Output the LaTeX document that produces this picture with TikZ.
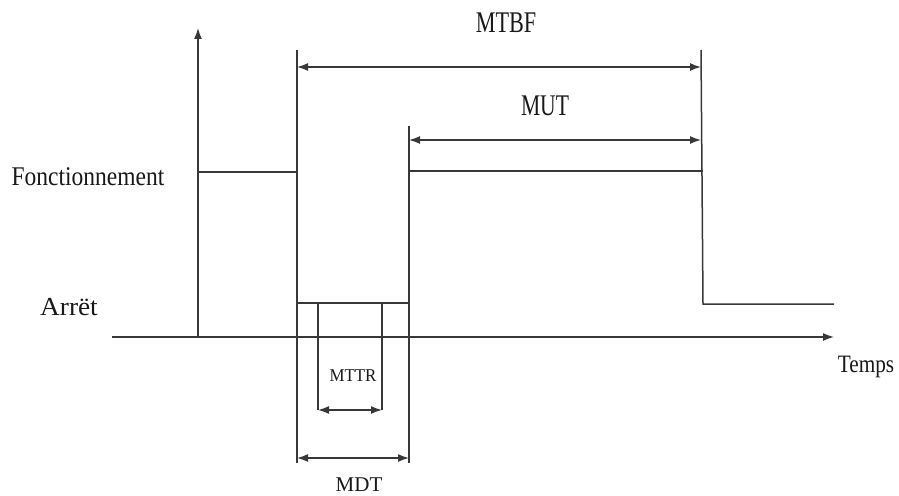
\documentclass[tikz,border=0pt]{standalone}
\usepackage{fontspec}
\setmainfont{Liberation Serif}
\usetikzlibrary{arrows.meta}
\begin{document}
\begin{tikzpicture}[x=1pt,y=-1pt,
  ln/.style={line width=1.5pt,draw=black!78},
  tip/.style={-{Latex[length=11pt,width=8pt]}},
  dimarrow/.style={ln,{Latex[length=11pt,width=8pt]}-{Latex[length=11pt,width=8pt]}},
  lbl/.style={anchor=base,inner sep=0pt,text=black!90}]
\useasboundingbox[fill=white] (0,0) rectangle (899,495);
% axes
\coordinate (o) at (198,337);
\coordinate (ytop) at (198,28);
\coordinate (xl) at (112,337);
\coordinate (xr) at (834,337);
\draw[ln,tip] (o) -- (ytop);
\draw[ln,tip] (xl) -- (xr);
% key points of the state curve
\coordinate (f0) at (198,172);
\coordinate (f1) at (297,172);
\coordinate (v1t) at (297,50);
\coordinate (v1b) at (297,463);
\coordinate (a0) at (297,303);
\coordinate (a1) at (410,303);
\coordinate (v2t) at (409,126);
\coordinate (v2b) at (409,463);
\coordinate (u0) at (409,171);
\coordinate (u1) at (703,171);
\coordinate (v3t) at (701,50);
\coordinate (v3b) at (703,304);
\coordinate (e1) at (834,304);
\draw[ln] (f0) -- (f1);
\draw[ln] (v1t) -- (v1b);
\draw[ln] (a0) -- (a1);
\draw[ln] (v2t) -- (v2b);
\draw[ln] (u0) -- (u1);
\draw[ln] (v3t) -- (v3b) -- (e1);
% MTTR guides
\coordinate (m0t) at (318,303);
\coordinate (m0b) at (318,410);
\coordinate (m1t) at (382,303);
\coordinate (m1b) at (382,410);
\draw[ln] (m0t) -- (m0b);
\draw[ln] (m1t) -- (m1b);
% dimension arrows
\coordinate (mtbfL) at (297,67);
\coordinate (mtbfR) at (701,67);
\coordinate (mutL) at (409,140);
\coordinate (mutR) at (701,140);
\coordinate (mdtL) at (297,458);
\coordinate (mdtR) at (409,458);
\draw[dimarrow] (mtbfL) -- (mtbfR);
\draw[dimarrow] (mutL) -- (mutR);
\draw[dimarrow] (m0b) -- (m1b);
\draw[dimarrow] (mdtL) -- (mdtR);
% labels
\node[lbl] (tMTBF) at (506,33) {\fontsize{30}{30}\selectfont\scalebox{0.74}[1]{MTBF}};
\node[lbl] (tMUT) at (545,115) {\fontsize{30}{30}\selectfont\scalebox{0.72}[1]{MUT}};
\node[lbl] (tF) at (88,185) {\fontsize{27}{27}\selectfont\scalebox{0.87}[1]{Fonctionnement}};
\node[lbl] (tA) at (69,315) {\fontsize{26}{26}\selectfont\scalebox{1.05}[1]{Arrët}};
\node[lbl] (tT) at (866,372) {\fontsize{25}{25}\selectfont\scalebox{0.85}[1]{Temps}};
\node[lbl] (tMTTR) at (353,381) {\fontsize{18}{18}\selectfont\scalebox{0.94}[1]{MTTR}};
\node[lbl] (tMDT) at (359,491) {\fontsize{21}{21}\selectfont MDT};
\end{tikzpicture}
\end{document}
